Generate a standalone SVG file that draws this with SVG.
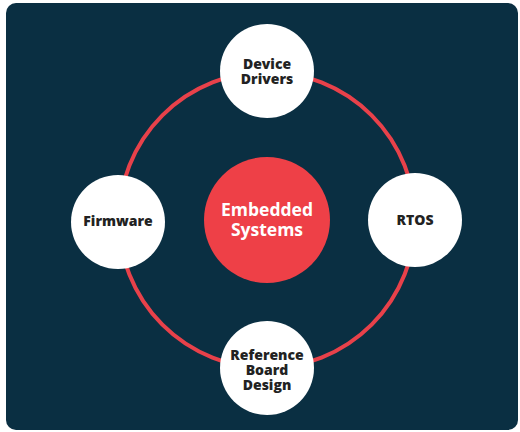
<svg xmlns="http://www.w3.org/2000/svg" width="520" height="432" viewBox="0 0 520 432">
  <style>
    .bg { fill: #0a2f42; }
    .ring { fill: none; stroke: #e8414a; stroke-width: 4; }
    .hub { fill: #ee4047; }
    .node { fill: #ffffff; }
    .lbl { font-family: "Open Sans", Lato, "Liberation Sans", sans-serif; font-weight: 800; font-size: 14px; fill: #222222; text-anchor: middle; }
    .hub-lbl { font-family: "Open Sans", Lato, "Liberation Sans", sans-serif; font-weight: 700; font-size: 17.5px; fill: #ffffff; text-anchor: middle; }
  </style>
  <rect x="0" y="0" width="520" height="432" fill="#ffffff"/>
  <rect class="bg" x="6" y="3" width="512" height="427" rx="10"/>

  <g id="connectors">
    <circle class="ring" cx="267" cy="220" r="148"/>
  </g>

  <g id="embedded-systems">
    <circle class="hub" cx="267" cy="220" r="63"/>
    <text class="hub-lbl" x="267" y="216">Embedded</text>
    <text class="hub-lbl" x="267" y="236">Systems</text>
  </g>

  <g id="device-drivers">
    <circle class="node" cx="267" cy="71" r="47"/>
    <text class="lbl" x="267" y="69">Device</text>
    <text class="lbl" x="267" y="84">Drivers</text>
  </g>

  <g id="firmware">
    <circle class="node" cx="118" cy="222" r="47"/>
    <text class="lbl" x="118" y="226">Firmware</text>
  </g>

  <g id="rtos">
    <circle class="node" cx="415" cy="220" r="47"/>
    <text class="lbl" x="415" y="225">RTOS</text>
  </g>

  <g id="reference-board-design">
    <circle class="node" cx="267" cy="368" r="47"/>
    <text class="lbl" x="267" y="360">Reference</text>
    <text class="lbl" x="267" y="375">Board</text>
    <text class="lbl" x="267" y="390">Design</text>
  </g>
</svg>
